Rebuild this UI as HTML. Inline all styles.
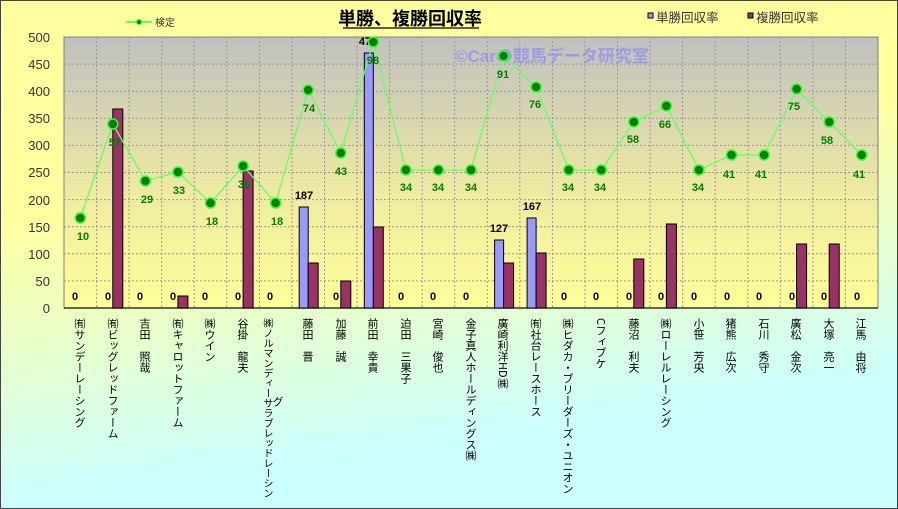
<!DOCTYPE html>
<html><head><meta charset="utf-8"><style>
body{margin:0;width:898px;height:509px;overflow:hidden;font-family:"Liberation Sans","Noto Sans CJK JP",sans-serif}
#w{position:absolute;left:0;top:0;width:896px;height:507px;border:1px solid #444;background:linear-gradient(172deg,#ffffa0 0%,#ffffa0 35%,#ccffff 80%,#ccffff 100%)}
.v{position:absolute;top:318px;writing-mode:vertical-rl;font-size:11px;line-height:12px;color:#000;white-space:nowrap;font-family:"Noto Sans CJK JP","Liberation Sans",sans-serif}
</style></head><body><div id="w"></div>
<svg width="898" height="509" style="position:absolute;left:0;top:0" font-family="Liberation Sans, Noto Sans CJK JP, sans-serif">
<defs><linearGradient id="pg" x1="0" y1="0" x2="0" y2="1"><stop offset="0" stop-color="#c0c0c0"/><stop offset="0.6" stop-color="#f0eca0"/><stop offset="1" stop-color="#ffff99"/></linearGradient></defs>
<rect x="64" y="37" width="814" height="271" fill="url(#pg)" stroke="#808080"/>
<g stroke="#999" stroke-dasharray="2,2" stroke-width="1">
<line x1="64" x2="878" y1="64.1" y2="64.1"/><line x1="64" x2="878" y1="91.2" y2="91.2"/><line x1="64" x2="878" y1="118.3" y2="118.3"/><line x1="64" x2="878" y1="145.4" y2="145.4"/><line x1="64" x2="878" y1="172.5" y2="172.5"/><line x1="64" x2="878" y1="199.6" y2="199.6"/><line x1="64" x2="878" y1="226.7" y2="226.7"/><line x1="64" x2="878" y1="253.8" y2="253.8"/><line x1="64" x2="878" y1="280.9" y2="280.9"/>
<line y1="37" y2="308" x1="96.6" x2="96.6"/><line y1="37" y2="308" x1="129.1" x2="129.1"/><line y1="37" y2="308" x1="161.7" x2="161.7"/><line y1="37" y2="308" x1="194.2" x2="194.2"/><line y1="37" y2="308" x1="226.8" x2="226.8"/><line y1="37" y2="308" x1="259.4" x2="259.4"/><line y1="37" y2="308" x1="291.9" x2="291.9"/><line y1="37" y2="308" x1="324.5" x2="324.5"/><line y1="37" y2="308" x1="357" x2="357"/><line y1="37" y2="308" x1="389.6" x2="389.6"/><line y1="37" y2="308" x1="422.2" x2="422.2"/><line y1="37" y2="308" x1="454.7" x2="454.7"/><line y1="37" y2="308" x1="487.3" x2="487.3"/><line y1="37" y2="308" x1="519.8" x2="519.8"/><line y1="37" y2="308" x1="552.4" x2="552.4"/><line y1="37" y2="308" x1="585" x2="585"/><line y1="37" y2="308" x1="617.5" x2="617.5"/><line y1="37" y2="308" x1="650.1" x2="650.1"/><line y1="37" y2="308" x1="682.6" x2="682.6"/><line y1="37" y2="308" x1="715.2" x2="715.2"/><line y1="37" y2="308" x1="747.8" x2="747.8"/><line y1="37" y2="308" x1="780.3" x2="780.3"/><line y1="37" y2="308" x1="812.9" x2="812.9"/><line y1="37" y2="308" x1="845.4" x2="845.4"/>
</g>
<line x1="64" x2="878" y1="308" y2="308" stroke="#333" stroke-width="1.5"/>
<g font-size="13" fill="#333" text-anchor="end">
<text x="50" y="42">500</text><text x="50" y="69">450</text><text x="50" y="96">400</text><text x="50" y="123">350</text><text x="50" y="150">300</text><text x="50" y="177">250</text><text x="50" y="205">200</text><text x="50" y="232">150</text><text x="50" y="259">100</text><text x="50" y="286">50</text><text x="50" y="313">0</text>
</g>
<text x="455" y="62" font-size="17" fill="#8080ff" fill-opacity="0.6" font-weight="bold">©Carの競馬データ研究室</text>
<g stroke="#000" stroke-width="1">
<g fill="#9999ff">
<rect x="299.2" y="207" width="9" height="101"/><rect x="364.3" y="53" width="9" height="255"/><rect x="494.6" y="240" width="9" height="68"/><rect x="527.1" y="218" width="9" height="90"/>
</g>
<g fill="#993366">
<rect x="112.8" y="109" width="10" height="199"/><rect x="177.9" y="296" width="10" height="12"/><rect x="243.1" y="171" width="10" height="137"/><rect x="308.2" y="263" width="10" height="45"/><rect x="340.8" y="281" width="10" height="27"/><rect x="373.3" y="227" width="10" height="81"/><rect x="503.6" y="263" width="10" height="45"/><rect x="536.1" y="253" width="10" height="55"/><rect x="633.8" y="259" width="10" height="49"/><rect x="666.4" y="224" width="10" height="84"/><rect x="796.6" y="244" width="10" height="64"/><rect x="829.2" y="244" width="10" height="64"/>
</g></g>
<g font-size="11" font-weight="bold" fill="#000" text-anchor="middle">
<text x="75" y="300">0</text><text x="108" y="300">0</text><text x="140" y="300">0</text><text x="173" y="300">0</text><text x="205" y="300">0</text><text x="238" y="300">0</text><text x="270" y="300">0</text><text x="336" y="300">0</text><text x="401" y="300">0</text><text x="433" y="300">0</text><text x="466" y="300">0</text><text x="564" y="300">0</text><text x="596" y="300">0</text><text x="629" y="300">0</text><text x="661" y="300">0</text><text x="694" y="300">0</text><text x="727" y="300">0</text><text x="759" y="300">0</text><text x="792" y="300">0</text><text x="824" y="300">0</text><text x="857" y="300">0</text>
<text x="304" y="199">187</text><text x="368" y="45">471</text><text x="499" y="232">127</text><text x="532" y="210">167</text>
</g>
<polyline fill="none" stroke="#66ff66" stroke-width="1.3" points="80.3,218 112.8,124 145.4,181 177.9,172 210.5,203 243.1,166 275.6,203 308.2,90 340.8,153 373.3,42 405.9,170 438.4,170 471,170 503.6,56 536.1,87 568.7,170 601.3,170 633.8,122 666.4,106 698.9,170 731.5,155 764.1,155 796.6,89 829.2,122 861.7,155"/>
<g fill="#008000" stroke="#33ff33" stroke-width="1.5">
<circle cx="80.3" cy="218" r="5"/><circle cx="112.8" cy="124" r="5"/><circle cx="145.4" cy="181" r="5"/><circle cx="177.9" cy="172" r="5"/><circle cx="210.5" cy="203" r="5"/><circle cx="243.1" cy="166" r="5"/><circle cx="275.6" cy="203" r="5"/><circle cx="308.2" cy="90" r="5"/><circle cx="340.8" cy="153" r="5"/><circle cx="373.3" cy="42" r="5"/><circle cx="405.9" cy="170" r="5"/><circle cx="438.4" cy="170" r="5"/><circle cx="471" cy="170" r="5"/><circle cx="503.6" cy="56" r="5"/><circle cx="536.1" cy="87" r="5"/><circle cx="568.7" cy="170" r="5"/><circle cx="601.3" cy="170" r="5"/><circle cx="633.8" cy="122" r="5"/><circle cx="666.4" cy="106" r="5"/><circle cx="698.9" cy="170" r="5"/><circle cx="731.5" cy="155" r="5"/><circle cx="764.1" cy="155" r="5"/><circle cx="796.6" cy="89" r="5"/><circle cx="829.2" cy="122" r="5"/><circle cx="861.7" cy="155" r="5"/>
</g>
<g font-size="11" font-weight="bold" fill="#008000" text-anchor="middle">
<text x="83" y="240">10</text><text x="115" y="146">57</text><text x="147" y="203">29</text><text x="179" y="194">33</text><text x="212" y="225">18</text><text x="244" y="188">36</text><text x="277" y="225">18</text><text x="309" y="112">74</text><text x="341" y="175">43</text><text x="373" y="64">98</text><text x="406" y="191">34</text><text x="438" y="191">34</text><text x="471" y="191">34</text><text x="503" y="78">91</text><text x="535" y="108">76</text><text x="568" y="191">34</text><text x="600" y="191">34</text><text x="633" y="143">58</text><text x="665" y="128">66</text><text x="698" y="191">34</text><text x="729" y="178">41</text><text x="761" y="178">41</text><text x="794" y="110">75</text><text x="827" y="144">58</text><text x="859" y="178">41</text>
</g>
<text x="410" y="25" font-size="18" font-weight="bold" text-anchor="middle" fill="#000">単勝、複勝回収率</text>
<line x1="343" x2="479" y1="28" y2="28" stroke="#000" stroke-width="1.2"/>
<line x1="126" x2="152" y1="22" y2="22" stroke="#33ff33" stroke-width="1.5"/><circle cx="139" cy="22" r="2.5" fill="#008000" stroke="#33ff33"/>
<text x="155" y="26" font-size="10" fill="#333">検定</text>
<rect x="648" y="13" width="5" height="5" fill="#9999ff" stroke="#000"/><text x="656" y="22" font-size="12.5" fill="#333">単勝回収率</text>
<rect x="748" y="13" width="5" height="5" fill="#993366" stroke="#000"/><text x="756" y="22" font-size="12.5" fill="#333">複勝回収率</text>
</svg>
<div class="v" style="left:74px">㈲サンデーレーシング</div>
<div class="v" style="left:107px">㈲ビッグレッドファーム</div>
<div class="v" style="left:139px">吉田　照哉</div>
<div class="v" style="left:172px">㈲キャロットファーム</div>
<div class="v" style="left:204px">㈱ウイン</div>
<div class="v" style="left:237px">谷掛　龍夫</div>
<div class="v" style="left:263px;font-size:10px;line-height:11px">㈱ノルマンディーサラブレッドレーシン</div>
<div class="v" style="left:272px;top:396px">グ</div>
<div class="v" style="left:302px">藤田　晋</div>
<div class="v" style="left:335px">加藤　誠</div>
<div class="v" style="left:367px">前田　幸貴</div>
<div class="v" style="left:400px">迫田　三果子</div>
<div class="v" style="left:432px">宮崎　俊也</div>
<div class="v" style="left:465px">金子真人ホールディングス㈱</div>
<div class="v" style="left:497px">廣崎利洋HD㈱</div>
<div class="v" style="left:530px">㈲社台レースホース</div>
<div class="v" style="left:562px">㈱ヒダカ・ブリーダーズ・ユニオン</div>
<div class="v" style="left:595px">Cフィブケ</div>
<div class="v" style="left:628px">藤沼　利夫</div>
<div class="v" style="left:660px">㈱ローレルレーシング</div>
<div class="v" style="left:693px">小笹　芳央</div>
<div class="v" style="left:725px">猪熊　広次</div>
<div class="v" style="left:758px">石川　秀守</div>
<div class="v" style="left:790px">廣松　金次</div>
<div class="v" style="left:823px">大塚　亮一</div>
<div class="v" style="left:855px">江馬　由将</div>
</body></html>
